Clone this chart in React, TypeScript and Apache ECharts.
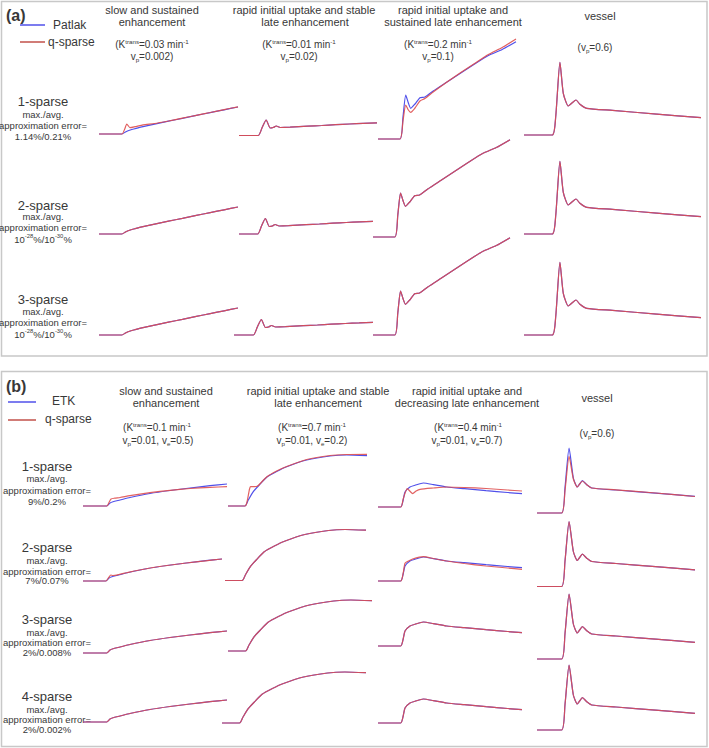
import React, { useEffect, useRef } from "react";
import * as echarts from "echarts";

type Pt = [number, number];

// ---------- DATA (time as % of acquisition window, concentration in a.u.) ----------
// Panel (a): Patlak reference curves
const patlakSlow: Pt[] = [[0,0],[16.5,0],[19,2],[20.5,3],[22.5,4],[25,5],[30,6.8],[40,9.8],[50,12.8],[60,15.7],[70,18.6],[80,21.4],[90,24.2],[100,27]];
const patlakStable: Pt[] = [[0,0],[13.9,0],[16.8,8],[19.7,15.5],[22.6,7.5],[24.8,8],[27,9.5],[29.9,8],[37,8.3],[50,9.3],[60,10],[70,10.8],[80,11.5],[90,12.1],[100,12.7]];
const patlakSustained: Pt[] = [[0,0],[15.9,0],[18.1,22],[20.1,44],[22,36],[23.7,30.7],[26.8,35],[30.4,41.3],[34,42],[40,48],[50,57],[60,66],[70,75],[80,83.5],[90,89.5],[100,97.3]];
const patlakVessel: Pt[] = [[0,0],[16,0],[17.9,18],[20.3,72.7],[22.2,41.7],[25,29],[27.1,32],[29.4,35],[31.6,30.7],[35.4,26.7],[50,24.6],[75,20.9],[100,17.3]];
// Panel (a): q-sparse, 1-sparse
const qa1Slow: Pt[] = [[0,0],[16.5,0],[18.5,5],[20,10],[22.3,6.3],[25.9,7.3],[31.7,9.2],[40,10.5],[50,13],[60,15.8],[70,18.7],[80,21.5],[90,24.4],[100,27.2]];
const qa1Sustained: Pt[] = [[0,0],[15.9,0],[18.1,18],[20.1,34],[22,29],[23.7,26.7],[26.8,31],[30.4,38],[34,40.5],[40,47],[50,57],[60,66.5],[70,75.5],[80,84.5],[90,91.5],[100,100]];

// Panel (b): ETK reference curves
const etkSlow: Pt[] = [[0,0],[16.5,0],[18.75,3],[20.8,4.3],[25.7,6],[32.6,8.5],[46.5,12.5],[60.4,15.5],[74.3,18],[88.2,20.3],[100,22]];
const etkStable: Pt[] = [[0,0],[12.2,0],[14.6,6],[18.2,14.3],[21.8,20],[27.8,28.7],[35,34.5],[42.2,39.3],[56.6,46],[73.4,50],[85.4,51],[100,50.3]];
const etkDecreasing: Pt[] = [[0,0],[15.8,0],[17.5,7],[18.75,15],[22.2,20],[25.7,21.7],[31.5,24],[38.4,22.4],[47.7,20],[60,18.3],[75,16.3],[90,14.5],[100,13.4]];
const etkVessel: Pt[] = [[0,0],[15.6,0],[17.7,25],[20.3,65],[23,35],[25.5,26],[27,29],[28.7,32.3],[31.5,28.3],[34.6,25],[50,23],[75,19.9],[100,16.7]];
// Panel (b): q-sparse, 1-sparse and 2-sparse
const qb1Slow: Pt[] = [[0,0],[16.5,0],[18.2,4],[19.5,7],[22,7.8],[25.7,8.5],[32.6,10.3],[46.5,13.3],[60.4,15.7],[74.3,17.5],[88.2,18.7],[100,19.3]];
const qb1Stable: Pt[] = [[0,0],[12.2,0],[13.5,3],[15.5,17],[16.3,19.3],[20.5,19.5],[21.8,20.5],[27.8,29],[35,35],[42.2,39.5],[56.6,46.5],[73.4,50.5],[85.4,51.5],[100,51.7]];
const qb1Decreasing: Pt[] = [[0,0],[15.8,0],[17.5,8],[20.3,18.4],[24.1,13.4],[26.5,16],[29.2,17.7],[38.4,19],[47.7,20],[60,19.5],[75,18.5],[90,17],[100,16]];
const qb1Vessel: Pt[] = [[0,0],[15.6,0],[17.7,22],[20.3,56.7],[23,34],[25.5,26],[27,29],[28.7,32],[31.5,28.3],[34.6,25],[50,23.2],[75,20],[100,16.5]];
const qb2Slow: Pt[] = [[0,0],[16.5,0],[18.5,3.5],[20,6],[21.5,5.5],[25.7,6.5],[32.6,8.7],[46.5,12.5],[60.4,15.5],[74.3,18],[88.2,20.2],[100,22]];
const qb2Decreasing: Pt[] = [[0,0],[15.8,0],[17.5,8],[18.75,17.7],[21.2,20],[24,22],[31.5,24.3],[38.4,22.5],[47.7,20],[60,17.5],[75,15],[90,13],[100,11.7]];

// Labels ({n|..} normal, {s|..} superscript, {b|..} subscript)
const headersA = [
  ["slow and sustained", "enhancement"],
  ["rapid initial uptake and stable", "late enhancement"],
  ["rapid initial uptake and", "sustained late enhancement"],
  ["vessel"],
];
const paramsA = [
  ["{n|(K}{s|trans}{n|=0.03 min}{s|-1}", "{n|v}{b|p}{n|=0.002)}"],
  ["{n|(K}{s|trans}{n|=0.01 min}{s|-1}", "{n|v}{b|p}{n|=0.02)}"],
  ["{n|(K}{s|trans}{n|=0.2 min}{s|-1}", "{n|v}{b|p}{n|=0.1)}"],
  ["{n|(v}{b|p}{n|=0.6)}"],
];
const headersB = [
  ["slow and sustained", "enhancement"],
  ["rapid initial uptake and stable", "late enhancement"],
  ["rapid initial uptake and", "decreasing late enhancement"],
  ["vessel"],
];
const paramsB = [
  ["{n|(K}{s|trans}{n|=0.1 min}{s|-1}", "{n|v}{b|p}{n|=0.01, v}{b|e}{n|=0.5)}"],
  ["{n|(K}{s|trans}{n|=0.7 min}{s|-1}", "{n|v}{b|p}{n|=0.01, v}{b|e}{n|=0.2)}"],
  ["{n|(K}{s|trans}{n|=0.4 min}{s|-1}", "{n|v}{b|p}{n|=0.01, v}{b|e}{n|=0.7)}"],
  ["{n|(v}{b|p}{n|=0.6)}"],
];
const rowNamesA = ["1-sparse", "2-sparse", "3-sparse"];
const errorsA = ["1.14%/0.21%", "{n|10}{s|-28}{n|%/10}{s|-30}{n|%}", "{n|10}{s|-28}{n|%/10}{s|-30}{n|%}"];
const rowNamesB = ["1-sparse", "2-sparse", "3-sparse", "4-sparse"];
const errorsB = ["9%/0.2%", "7%/0.07%", "2%/0.008%", "2%/0.002%"];

// ---------- LAYOUT ----------
const FONT = "'Liberation Sans', Arial, sans-serif";
const TXT = "#383838";
const BLUE = "#5050ea";
const RED = "#de4c4c";

// [left, right, baseline] per small chart
const boxesA = [
  [[99, 238, 134], [239, 377, 135.5], [378, 516, 139], [524, 701, 135]],
  [[99, 238, 234], [239, 373, 234], [373, 510, 237], [524, 701, 234]],
  [[99, 238, 335], [234, 373, 335], [373, 510, 335], [524, 701, 335]],
];
const boxesB = [
  [[83, 227, 506], [228, 367, 506], [378, 522, 507], [537, 695, 513]],
  [[83, 222, 581], [225, 366, 580.5], [378, 522, 581], [537, 695, 586.5]],
  [[83, 227, 653], [228, 372, 651], [378, 522, 646], [537, 695, 659]],
  [[83, 227, 722], [222, 366, 723], [378, 522, 723], [537, 695, 730]],
];
const truthA = [patlakSlow, patlakStable, patlakSustained, patlakVessel];
const qsA = [
  [qa1Slow, patlakStable, qa1Sustained, patlakVessel],
  [patlakSlow, patlakStable, patlakSustained, patlakVessel],
  [patlakSlow, patlakStable, patlakSustained, patlakVessel],
];
const truthB = [etkSlow, etkStable, etkDecreasing, etkVessel];
const qsB = [
  [qb1Slow, qb1Stable, qb1Decreasing, qb1Vessel],
  [qb2Slow, etkStable, qb2Decreasing, etkVessel],
  [etkSlow, etkStable, etkDecreasing, etkVessel],
  [etkSlow, etkStable, etkDecreasing, etkVessel],
];

const headerY = { a: [10, 22, 44, 56], b: [391, 403, 427, 440] };
const headerXA = [[152, 152, 152, 152], [304, 305, 299, 299], [453, 453, 438, 438]];
const headerXB = [[166, 166, 157, 158], [318, 318, 312, 312], [467, 467, 468, 467]];
const rowYA = [[101, 114, 125, 136], [205, 216.5, 227, 239], [299, 311.5, 322, 334]];
const rowYB = [[466.5, 478.5, 490, 501], [547.5, 560.5, 571, 580.5], [619.5, 632.5, 642.5, 652.5], [696.5, 709.5, 719.5, 729]];

let measureCtx: CanvasRenderingContext2D | null = null;
function measure(text: string, fs: number, weight = "normal") {
  if (!measureCtx) measureCtx = document.createElement("canvas").getContext("2d");
  if (!measureCtx) return text.length * fs * 0.5;
  measureCtx.font = `${weight} ${fs}px ${FONT}`;
  return measureCtx.measureText(text).width;
}

function txt(x: number, y: number, text: string, fs: number, align = "center", weight = "normal"): any[] {
  if (text.indexOf("{") < 0) {
    return [{
      type: "text", x, y, silent: true,
      style: { text, fontSize: fs, fontFamily: FONT, fontWeight: weight, fill: TXT, align, verticalAlign: "middle" },
    }];
  }
  const segs: { kind: string; s: string; size: number; dy: number; w: number }[] = [];
  const re = /\{(\w)\|([^}]*)\}/g;
  let m: RegExpExecArray | null;
  while ((m = re.exec(text))) {
    const kind = m[1];
    const size = kind === "n" ? fs : fs * 0.62;
    const dy = kind === "s" ? -fs * 0.3 : kind === "b" ? fs * 0.3 : 0;
    segs.push({ kind, s: m[2], size, dy, w: measure(m[2], size, weight) });
  }
  const total = segs.reduce((a, s) => a + s.w, 0);
  let cx = align === "center" ? x - total / 2 : x;
  return segs.map((sg) => {
    const el = {
      type: "text", x: cx, y: y + sg.dy, silent: true,
      style: { text: sg.s, fontSize: sg.size, fontFamily: FONT, fontWeight: weight, fill: TXT, align: "left", verticalAlign: "middle" },
    };
    cx += sg.w;
    return el;
  });
}

function buildOption() {
  const grid: any[] = [];
  const xAxis: any[] = [];
  const yAxis: any[] = [];
  const series: any[] = [];
  const addChart = (box: number[], curves: [Pt[], string, number][]) => {
    const i = grid.length;
    const [l, r, base] = box;
    grid.push({ left: l, top: base - 100, width: r - l, height: 100, outerBoundsMode: "none" });
    xAxis.push({ type: "value", gridIndex: i, min: 0, max: 100, show: false });
    yAxis.push({ type: "value", gridIndex: i, min: 0, max: 100, show: false });
    curves.forEach(([data, color, op]) =>
      series.push({
        type: "line", xAxisIndex: i, yAxisIndex: i, data,
        symbol: "none", showSymbol: false, smooth: 0.2, clip: false, silent: true,
        lineStyle: { color, width: 1.2, opacity: op },
      })
    );
  };
  boxesA.forEach((row, r) =>
    row.forEach((box, c) => addChart(box, [[truthA[c], BLUE, 1], [qsA[r][c], RED, 0.9]]))
  );
  boxesB.forEach((row, r) =>
    row.forEach((box, c) => addChart(box, [[truthB[c], BLUE, 1], [qsB[r][c], RED, 0.88]]))
  );

  const g: any[] = [];
  g.push({ type: "rect", silent: true, shape: { x: 1.5, y: 1.5, width: 705.5, height: 354.5 }, style: { fill: "none", stroke: "#c8c8c8", lineWidth: 1.5 } });
  g.push({ type: "rect", silent: true, shape: { x: 1.5, y: 371.5, width: 705.5, height: 375 }, style: { fill: "none", stroke: "#c8c8c8", lineWidth: 1.5 } });
  g.push(...txt(6, 15, "(a)", 16, "left", "bold"));
  g.push(...txt(6, 386, "(b)", 16, "left", "bold"));
  g.push({ type: "line", silent: true, shape: { x1: 20, y1: 25, x2: 45, y2: 25 }, style: { stroke: BLUE, lineWidth: 1.5 } });
  g.push(...txt(53, 25, "Patlak", 12, "left"));
  g.push({ type: "line", silent: true, shape: { x1: 20, y1: 42, x2: 45, y2: 42 }, style: { stroke: "#c2504a", lineWidth: 1.5 } });
  g.push(...txt(48, 42, "q-sparse", 12, "left"));
  g.push({ type: "line", silent: true, shape: { x1: 8, y1: 402, x2: 36, y2: 402 }, style: { stroke: BLUE, lineWidth: 1.5 } });
  g.push(...txt(52, 401, "ETK", 12, "left"));
  g.push({ type: "line", silent: true, shape: { x1: 8, y1: 420, x2: 36, y2: 420 }, style: { stroke: "#c2504a", lineWidth: 1.5 } });
  g.push(...txt(45, 419, "q-sparse", 12, "left"));

  for (let c = 0; c < 3; c++) {
    const [h1, h2] = headersA[c];
    const [x1, x2, x3, x4] = headerXA[c];
    g.push(...txt(x1, headerY.a[0], h1, 11));
    g.push(...txt(x2, headerY.a[1], h2, 11));
    g.push(...txt(x3, headerY.a[2], paramsA[c][0], 10));
    g.push(...txt(x4, headerY.a[3], paramsA[c][1], 10));
    const [k1, k2] = headersB[c];
    const [y1, y2, y3, y4] = headerXB[c];
    g.push(...txt(y1, headerY.b[0], k1, 11));
    g.push(...txt(y2, headerY.b[1], k2, 11));
    g.push(...txt(y3, headerY.b[2], paramsB[c][0], 10));
    g.push(...txt(y4, headerY.b[3], paramsB[c][1], 10));
  }
  g.push(...txt(600, 16, headersA[3][0], 11));
  g.push(...txt(595, 47, paramsA[3][0], 10));
  g.push(...txt(597, 398, headersB[3][0], 11));
  g.push(...txt(597, 433, paramsB[3][0], 10));

  rowYA.forEach((ys, r) => {
    g.push(...txt(43, ys[0], rowNamesA[r], 13));
    g.push(...txt(43, ys[1], "max./avg.", 9.5));
    g.push(...txt(43, ys[2], "approximation error=", 9.5));
    g.push(...txt(43, ys[3], errorsA[r], 9.5));
  });
  rowYB.forEach((ys, r) => {
    g.push(...txt(47, ys[0], rowNamesB[r], 13));
    g.push(...txt(47, ys[1], "max./avg.", 9.5));
    g.push(...txt(47, ys[2], "approximation error=", 9.5));
    g.push(...txt(47, ys[3], errorsB[r], 9.5));
  });

  return {
    animation: false,
    backgroundColor: "#ffffff",
    grid, xAxis, yAxis, series,
    graphic: { elements: g },
  };
}

export default function App() {
  const ref = useRef<HTMLDivElement>(null);
  useEffect(() => {
    if (!ref.current) return;
    const chart = echarts.init(ref.current, undefined, { renderer: "svg" });
    chart.setOption(buildOption() as any);
    return () => chart.dispose();
  }, []);
  return (
    <div
      ref={ref}
      style={{ position: "absolute", left: 0, top: 0, width: 709, height: 748, background: "#fff" }}
    />
  );
}
